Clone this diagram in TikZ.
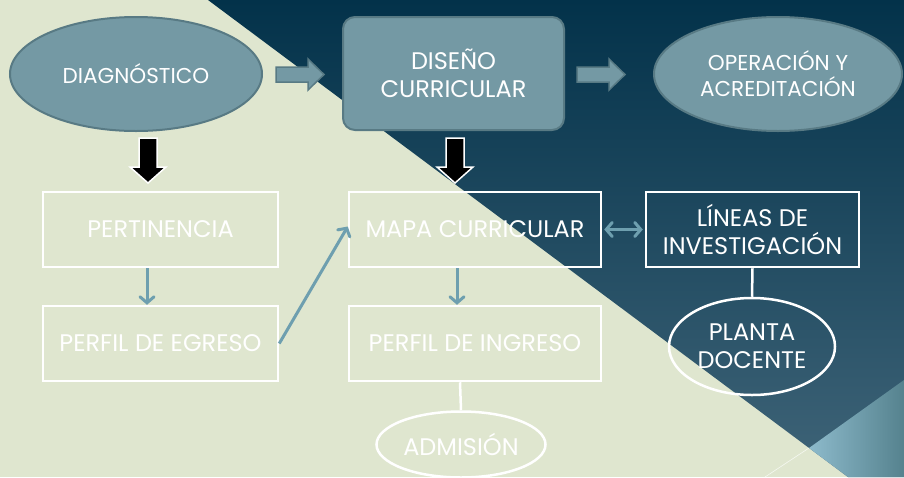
\documentclass[tikz,border=0pt]{standalone}
\usepackage{fontspec}
\setmainfont{Poppins}
\usetikzlibrary{arrows.meta,shapes.geometric}
\definecolor{bgl}{HTML}{DFE6CF}
\definecolor{navy}{HTML}{03324A}
\definecolor{navyb}{HTML}{3F6478}
\definecolor{fillb}{HTML}{7499A4}
\definecolor{edgeb}{HTML}{587A84}
\definecolor{arr}{HTML}{6E9FAF}
\definecolor{tealA}{HTML}{8DBACB}
\definecolor{tealB}{HTML}{55828E}
\tikzset{
  txt/.style={text=white,font=\fontsize{24}{28}\selectfont,align=center,inner sep=0pt},
  smalltxt/.style={font=\fontsize{21.5}{26}\selectfont},
  wbox/.style={txt,draw=white,line width=2.5pt,rectangle,minimum width=235pt,minimum height=75pt},
  well/.style={txt,draw=white,line width=2.5pt,ellipse,inner sep=0pt},
  bell/.style={txt,draw=edgeb,fill=fillb,line width=2pt,ellipse,inner sep=0pt},
  larr/.style={draw=arr,line width=3pt,-{Straight Barb[length=6pt,width=14pt,line cap=round]}},
  dline/.style={draw=white,line width=2.5pt},
  blockarrow/.style={fill=fillb,draw=edgeb,line width=1.5pt},
  blackarrow/.style={fill=black,draw=white,line width=1.5pt}
}
\begin{document}
\begin{tikzpicture}[x=1pt,y=-1pt]
\useasboundingbox (0,0) rectangle (904,477);
% background
\fill[bgl] (0,0) rectangle (904,477);
\shade[top color=navy,middle color=navy,bottom color=navyb] (208,0) -- (904,0) -- (904,477) -- (848,477) -- cycle;
\shade[left color=tealA,right color=tealB] (809,448) -- (904,380) -- (904,477) -- (848,477) -- cycle;
\draw[white!70!bgl,line width=0.6pt] (809,448) -- (765,477);

% top row
\node[bell,smalltxt,minimum width=252pt,minimum height=114pt] (diag) at (136,74) {DIAGNÓSTICO};
\node[txt,draw=edgeb,fill=fillb,line width=2pt,rounded corners=12pt,minimum width=221pt,minimum height=113pt] (dis) at (453.5,73.5) {DISEÑO\\CURRICULAR};
\node[bell,smalltxt,minimum width=248pt,minimum height=114pt] (oper) at (778,74) {OPERACIÓN Y\\ACREDITACIÓN};

% block arrows
\draw[blockarrow] (276,67) -- (308,67) -- (308,59) -- (324,74.5) -- (308,90) -- (308,82) -- (276,82) -- cycle;
\draw[blockarrow] (577,67) -- (609,67) -- (609,59) -- (625,74.5) -- (609,90) -- (609,82) -- (577,82) -- cycle;

% black arrows
\draw[blackarrow] (139,138) -- (157,138) -- (157,167) -- (166,167) -- (148,183) -- (130,167) -- (139,167) -- cycle;
\draw[blackarrow] (446,138) -- (464,138) -- (464,167) -- (473,167) -- (455,183) -- (437,167) -- (446,167) -- cycle;

% boxes
\node[wbox] (pert) at (160.5,229.5) {PERTINENCIA};
\node[wbox] (egr) at (160.5,343.5) {PERFIL DE EGRESO};
\node[wbox,minimum width=252pt] (mapa) at (475,229.5) {MAPA CURRICULAR};
\node[wbox,minimum width=252pt] (ingr) at (475,343.5) {PERFIL DE INGRESO};
\node[wbox,minimum width=213pt] (lin) at (752.5,229.5) {LÍNEAS DE\\INVESTIGACIÓN};
\node[well,minimum width=166pt,minimum height=97pt] (planta) at (752,346.5) {PLANTA\\DOCENTE};
\node[well,minimum width=169pt,minimum height=66pt] (adm) at (461,444.5) {ADMISIÓN};

% connectors
\draw[larr] ([xshift=-13.5pt]pert.south) -- ([xshift=-13.5pt]egr.north);
\draw[larr] ([xshift=-18pt]mapa.south) -- ([xshift=-18pt]ingr.north);
\draw[larr] (egr.east) -- ([yshift=3pt]mapa.west);
\draw[draw=arr,line width=3pt,{Straight Barb[length=6pt,width=14pt,line cap=round]}-{Straight Barb[length=6pt,width=14pt,line cap=round]}] ([xshift=2pt]mapa.east) -- ([xshift=-2pt]lin.west);
\draw[dline] ([xshift=-15pt]ingr.south) -- (adm.north);
\draw[dline] (lin.south) -- (planta.north);
\end{tikzpicture}
\end{document}
